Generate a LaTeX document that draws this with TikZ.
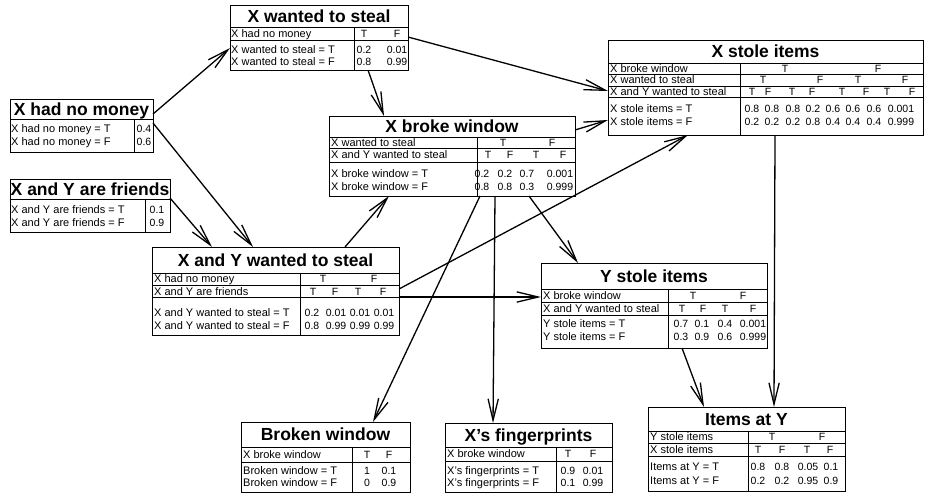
\documentclass[tikz,border=0pt]{standalone}
\usepackage{fontspec}
\setmainfont{Liberation Sans}
\usetikzlibrary{arrows.meta, calc}

\begin{document}
\begin{tikzpicture}[
  x=1pt, y=-1pt,
  cpt/.style={draw, line width=0.8pt, inner sep=0pt, outer sep=0pt},
  rule/.style={line width=0.8pt},
  ttl/.style={inner sep=0pt, font=\fontsize{17.5}{17.5}\selectfont\bfseries,
    text height=12.5pt, text depth=0pt},
  lbl/.style={anchor=west, inner sep=0pt, font=\fontsize{11}{12}\selectfont,
    text height=7.9pt, text depth=0pt},
  val/.style={inner sep=0pt, font=\fontsize{10.5}{12}\selectfont,
    text height=7.5pt, text depth=0pt},
  conn/.style={line width=1.3pt, -{Straight Barb[angle=27:22pt, line width=1.3pt]}}
]

\fill[white] (0,0) rectangle (925,493);
\useasboundingbox (0,0) rectangle (925,493);

% X had no money
\node[cpt, minimum width=143pt, minimum height=53pt] (nomoney) at (81.5,125.5) {};
\node[ttl] (nomoney-ttl) at (81.5,109.5) {X had no money};
\draw[rule] (10,119) -- (153,119) (134,119) -- (134,152);
\node[lbl] (nomoney-r1) at (11,129) {X had no money = T};
\node[lbl] (nomoney-r2) at (11,142) {X had no money = F};
\node[val] (nomoney-t1) at (144,129) {0.4};
\node[val] (nomoney-f1) at (144,142) {0.6};

% X and Y are friends
\node[cpt, minimum width=160pt, minimum height=53pt] (friends) at (90,205.5) {};
\node[ttl] (friends-ttl) at (90,189) {X and Y are friends};
\draw[rule] (10,199) -- (170,199) (145,199) -- (145,232);
\node[lbl] (friends-r1) at (11,210) {X and Y are friends = T};
\node[lbl] (friends-r2) at (11,223) {X and Y are friends = F};
\node[val] (friends-t1) at (157,210) {0.1};
\node[val] (friends-f1) at (157,223) {0.9};

% X wanted to steal
\node[cpt, minimum width=178pt, minimum height=65pt] (wanted) at (319,37.5) {};
\node[ttl] (wanted-ttl) at (319,16) {X wanted to steal};
\draw[rule] (230,27) -- (408,27) (230,40) -- (408,40) (354,27) -- (354,70);
\node[lbl] (wanted-p1) at (231,33.5) {X had no money};
\node[lbl] (wanted-r1) at (231,50) {X wanted to steal = T};
\node[lbl] (wanted-r2) at (231,62) {X wanted to steal = F};
\foreach \x/\lv/\vt/\vf [count=\i] in {364/T/0.2/0.8, 397/F/0.01/0.99} {
  \node[val] (wanted-a\i) at (\x,33.5) {\lv};
  \node[val] (wanted-t\i) at (\x,50) {\vt};
  \node[val] (wanted-f\i) at (\x,62) {\vf};
}

% X stole items
\node[cpt, minimum width=315pt, minimum height=95pt] (stole) at (765.5,87.5) {};
\node[ttl] (stole-ttl) at (765.5,51.5) {X stole items};
\draw[rule] (608,63) -- (923,63) (608,74) -- (923,74) (608,86) -- (923,86)
  (608,97) -- (923,97) (740,63) -- (740,135);
\node[lbl] (stole-p1) at (610,68.5) {X broke window};
\node[lbl] (stole-p2) at (610,80) {X wanted to steal};
\node[lbl] (stole-p3) at (610,91.5) {X and Y wanted to steal};
\node[lbl] (stole-r1) at (610,109) {X stole items = T};
\node[lbl] (stole-r2) at (610,122) {X stole items = F};
\foreach \x/\lv [count=\i] in {785/T, 878/F}
  \node[val] (stole-a\i) at (\x,68.5) {\lv};
\foreach \x/\lv [count=\i] in {763/T, 820/F, 858/T, 905/F}
  \node[val] (stole-b\i) at (\x,80) {\lv};
\foreach \x/\lv [count=\i] in {752/T, 768/F, 792/T, 812/F, 842/T, 866/F, 887/T, 912/F}
  \node[val] (stole-c\i) at (\x,91.5) {\lv};
\foreach \x/\vt/\vf [count=\i] in {752/0.8/0.2, 772/0.8/0.2, 793/0.8/0.2, 813/0.2/0.8,
    833/0.6/0.4, 853/0.6/0.4, 874/0.6/0.4, 901/0.001/0.999} {
  \node[val] (stole-t\i) at (\x,109) {\vt};
  \node[val] (stole-f\i) at (\x,122) {\vf};
}

% X broke window
\node[cpt, minimum width=246pt, minimum height=80pt] (broke) at (452,156) {};
\node[ttl] (broke-ttl) at (452,126.5) {X broke window};
\draw[rule] (329,137) -- (575,137) (329,148.5) -- (575,148.5) (329,162) -- (575,162)
  (477,137) -- (477,196);
\node[lbl] (broke-p1) at (331,142.5) {X wanted to steal};
\node[lbl] (broke-p2) at (331,155) {X and Y wanted to steal};
\node[lbl] (broke-r1) at (331,174) {X broke window = T};
\node[lbl] (broke-r2) at (331,187) {X broke window = F};
\foreach \x/\lv [count=\i] in {503/T, 552/F}
  \node[val] (broke-a\i) at (\x,142.5) {\lv};
\foreach \x/\lv [count=\i] in {488/T, 510/F, 536/T, 563/F}
  \node[val] (broke-b\i) at (\x,155) {\lv};
\foreach \x/\vt/\vf [count=\i] in {482/0.2/0.8, 505/0.2/0.8, 527/0.7/0.3, 560/0.001/0.999} {
  \node[val] (broke-t\i) at (\x,174) {\vt};
  \node[val] (broke-f\i) at (\x,187) {\vf};
}

% X and Y wanted to steal
\node[cpt, minimum width=247pt, minimum height=88pt] (both) at (275.5,291) {};
\node[ttl] (both-ttl) at (275.5,260) {X and Y wanted to steal};
\draw[rule] (152,273) -- (399,273) (152,285) -- (399,285) (152,297.5) -- (399,297.5)
  (300,273) -- (300,335);
\node[lbl] (both-p1) at (154,279) {X had no money};
\node[lbl] (both-p2) at (154,291.5) {X and Y are friends};
\node[lbl] (both-r1) at (154,313) {X and Y wanted to steal = T};
\node[lbl] (both-r2) at (154,326) {X and Y wanted to steal = F};
\foreach \x/\lv [count=\i] in {323/T, 374/F}
  \node[val] (both-a\i) at (\x,279) {\lv};
\foreach \x/\lv [count=\i] in {313/T, 335/F, 358/T, 383/F}
  \node[val] (both-b\i) at (\x,291.5) {\lv};
\foreach \x/\vt/\vf [count=\i] in {312/0.2/0.8, 336/0.01/0.99, 360/0.01/0.99, 384/0.01/0.99} {
  \node[val] (both-t\i) at (\x,313) {\vt};
  \node[val] (both-f\i) at (\x,326) {\vf};
}

% Y stole items
\node[cpt, minimum width=226pt, minimum height=85pt] (ystole) at (654,305.5) {};
\node[ttl] (ystole-ttl) at (654,276) {Y stole items};
\draw[rule] (541,289) -- (767,289) (541,302) -- (767,302) (541,315) -- (767,315)
  (668,289) -- (668,348);
\node[lbl] (ystole-p1) at (543,295.5) {X broke window};
\node[lbl] (ystole-p2) at (543,308.5) {X and Y wanted to steal};
\node[lbl] (ystole-r1) at (543,324) {Y stole items = T};
\node[lbl] (ystole-r2) at (543,337) {Y stole items = F};
\foreach \x/\lv [count=\i] in {693/T, 743/F}
  \node[val] (ystole-a\i) at (\x,295.5) {\lv};
\foreach \x/\lv [count=\i] in {682/T, 703/F, 725/T, 753/F}
  \node[val] (ystole-b\i) at (\x,308.5) {\lv};
\foreach \x/\vt/\vf [count=\i] in {681/0.7/0.3, 702/0.1/0.9, 725/0.4/0.6, 753/0.001/0.999} {
  \node[val] (ystole-t\i) at (\x,324) {\vt};
  \node[val] (ystole-f\i) at (\x,337) {\vf};
}

% Broken window
\node[cpt, minimum width=169pt, minimum height=70pt] (window) at (325.5,457) {};
\node[ttl] (window-ttl) at (325.5,434.5) {Broken window};
\draw[rule] (241,447) -- (410,447) (241,462) -- (410,462) (352,447) -- (352,492);
\node[lbl] (window-p1) at (243,454.5) {X broke window};
\node[lbl] (window-r1) at (243,471) {Broken window = T};
\node[lbl] (window-r2) at (243,483) {Broken window = F};
\foreach \x/\lv/\vt/\vf [count=\i] in {367/T/1/0, 389/F/0.1/0.9} {
  \node[val] (window-a\i) at (\x,454.5) {\lv};
  \node[val] (window-t\i) at (\x,471) {\vt};
  \node[val] (window-f\i) at (\x,483) {\vf};
}

% X's fingerprints
\node[cpt, minimum width=167pt, minimum height=69pt] (prints) at (528.5,457.5) {};
\node[ttl] (prints-ttl) at (528.5,435) {X’s fingerprints};
\draw[rule] (445,447) -- (612,447) (445,461) -- (612,461) (556,447) -- (556,492);
\node[lbl] (prints-p1) at (447,454) {X broke window};
\node[lbl] (prints-r1) at (447,471) {X’s fingerprints = T};
\node[lbl] (prints-r2) at (447,483) {X’s fingerprints = F};
\foreach \x/\lv/\vt/\vf [count=\i] in {568/T/0.9/0.1, 593/F/0.01/0.99} {
  \node[val] (prints-a\i) at (\x,454) {\lv};
  \node[val] (prints-t\i) at (\x,471) {\vt};
  \node[val] (prints-f\i) at (\x,483) {\vf};
}

% Items at Y
\node[cpt, minimum width=197pt, minimum height=84pt] (items) at (746.5,449) {};
\node[ttl] (items-ttl) at (746.5,419) {Items at Y};
\draw[rule] (648,431) -- (845,431) (648,443) -- (845,443) (648,456) -- (845,456)
  (748,431) -- (748,491);
\node[lbl] (items-p1) at (650,437) {Y stole items};
\node[lbl] (items-p2) at (650,449.5) {X stole items};
\node[lbl] (items-r1) at (650,467) {Items at Y = T};
\node[lbl] (items-r2) at (650,481) {Items at Y = F};
\foreach \x/\lv [count=\i] in {772/T, 822/F}
  \node[val] (items-a\i) at (\x,437) {\lv};
\foreach \x/\lv [count=\i] in {758/T, 782/F, 807/T, 830/F}
  \node[val] (items-b\i) at (\x,449.5) {\lv};
\foreach \x/\vt/\vf [count=\i] in {758/0.8/0.2, 782/0.8/0.2, 808/0.05/0.95, 831/0.1/0.9} {
  \node[val] (items-t\i) at (\x,467) {\vt};
  \node[val] (items-f\i) at (\x,481) {\vf};
}

% connectors
\draw[conn] ([shift={(0,15)}]nomoney.north east) -- ([shift={(0,43)}]wanted.north west);
\draw[conn] ([shift={(0,24)}]nomoney.north east) -- ([shift={(101,0)}]both.north west);
\draw[conn] ([shift={(0,19)}]friends.north east) -- ([shift={(60,0)}]both.north west);
\draw[conn] ([shift={(138,0)}]wanted.south west) -- ([shift={(55,0)}]broke.north west);
\draw[conn] ([shift={(0,32)}]wanted.north east) -- ([shift={(0,51)}]stole.north west);
\draw[conn] ([shift={(193,0)}]both.north west) -- ([shift={(60,0)}]broke.south west);
\draw[conn] ([shift={(0,42)}]both.north east) -- ([shift={(80,0)}]stole.south west);
\draw[conn] ([shift={(0,50)}]both.north east) -- ([shift={(0,34)}]ystole.north west);
\draw[conn] ([shift={(0,14)}]broke.north east) -- ([shift={(0,80)}]stole.north west);
\draw[conn] ([shift={(151,0)}]broke.south west) -- ([shift={(132,0)}]window.north west);
\draw[conn] ([shift={(166,0)}]broke.south west) -- ([shift={(48,0)}]prints.north west);
\draw[conn] ([shift={(200,0)}]broke.south west) -- ([shift={(37,0)}]ystole.north west);
\draw[conn] ([shift={(167,0)}]stole.south west) -- ([shift={(126,0)}]items.north west);
\draw[conn] ([shift={(141,0)}]ystole.south west) -- ([shift={(56,0)}]items.north west);

\end{tikzpicture}
\end{document}
